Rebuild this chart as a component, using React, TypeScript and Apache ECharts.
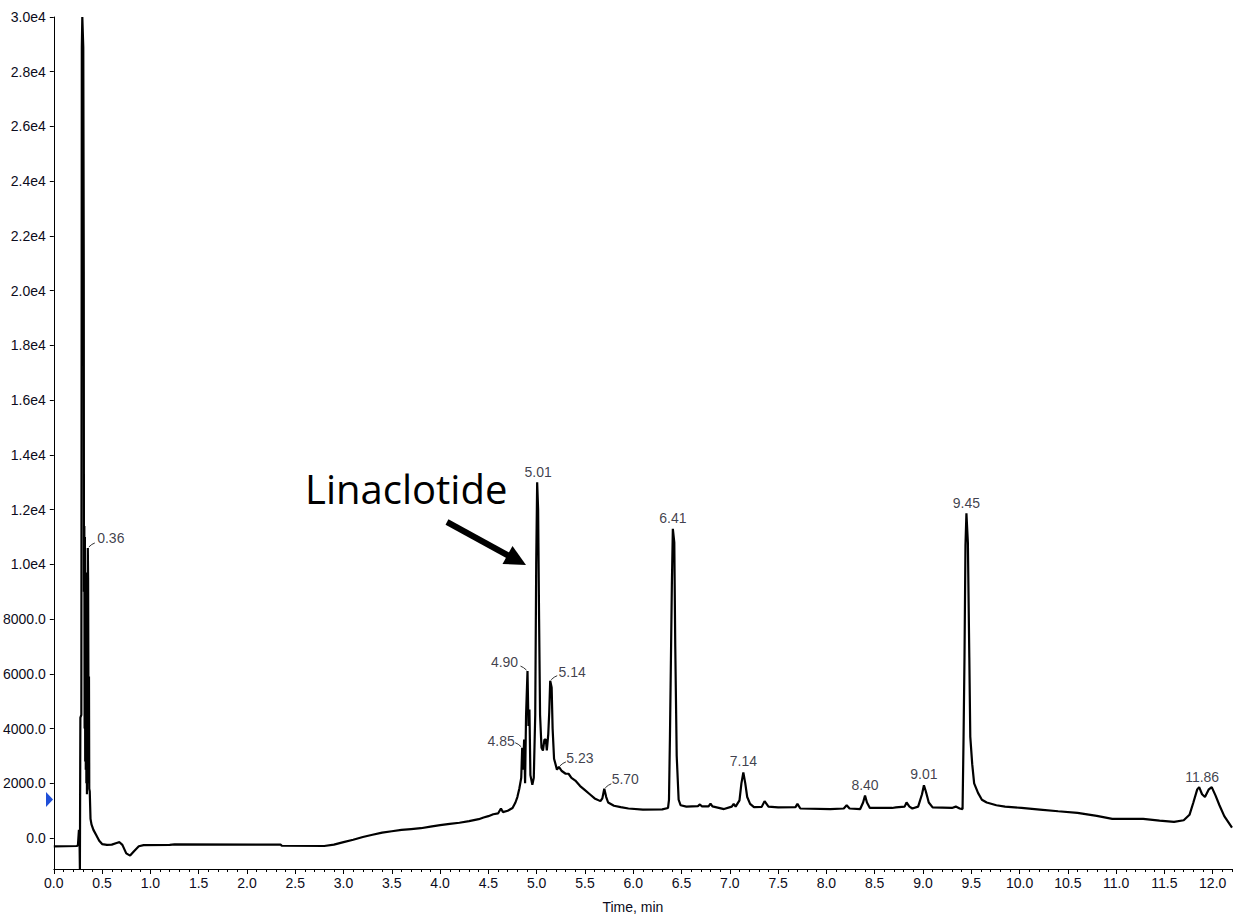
import React, { useEffect, useRef } from "react";
import * as echarts from "echarts";

// Retention time (min) and intensity (cps) of the chromatogram trace
const times = [
  0.0, 0.24, 0.25, 0.26, 0.265, 0.27, 0.275, 0.285, 0.29, 0.295, 0.3, 0.305, 0.31, 0.312, 0.316,
  0.319, 0.322, 0.325, 0.328, 0.331, 0.334, 0.337, 0.34, 0.343, 0.346, 0.349, 0.352, 0.355, 0.358, 0.361,
  0.364, 0.367, 0.372, 0.38, 0.39, 0.41, 0.44, 0.47, 0.5, 0.55,
  0.6, 0.65, 0.68, 0.71, 0.75, 0.79, 0.83, 0.88, 0.93, 1.2, 1.25, 2.35, 2.36, 2.8, 2.9,
  3.0, 3.1, 3.2, 3.3, 3.4, 3.5, 3.6, 3.7, 3.8, 3.9, 4.0, 4.1, 4.2, 4.3, 4.4,
  4.45, 4.5, 4.55, 4.6, 4.63, 4.65, 4.7, 4.75, 4.78, 4.8, 4.82, 4.84, 4.85, 4.86, 4.87,
  4.88, 4.89, 4.905, 4.915, 4.925, 4.935, 4.955, 4.97, 4.985, 4.995, 5.005, 5.015, 5.025, 5.035, 5.05,
  5.065, 5.08, 5.095, 5.105, 5.12, 5.13, 5.14, 5.155, 5.165, 5.18, 5.21, 5.23, 5.26, 5.3, 5.33,
  5.36, 5.4, 5.45, 5.5, 5.55, 5.6, 5.66, 5.68, 5.7, 5.72, 5.74, 5.8, 5.87, 5.95, 6.1,
  6.3, 6.36, 6.37, 6.38, 6.39, 6.4, 6.41, 6.425, 6.435, 6.45, 6.47, 6.49, 6.55, 6.67, 6.69,
  6.71, 6.78, 6.8, 6.82, 6.94, 7.02, 7.04, 7.06, 7.1, 7.12, 7.14, 7.16, 7.18, 7.21, 7.25,
  7.33, 7.36, 7.38, 7.4, 7.5, 7.68, 7.7, 7.73, 8.04, 8.18, 8.21, 8.24, 8.35, 8.38, 8.4,
  8.42, 8.45, 8.68, 8.72, 8.81, 8.83, 8.86, 8.89, 8.95, 8.99, 9.01, 9.03, 9.06, 9.1, 9.3,
  9.34, 9.38, 9.41, 9.42, 9.43, 9.44, 9.45, 9.465, 9.48, 9.49, 9.51, 9.53, 9.57, 9.61, 9.66,
  9.76, 9.85, 10.02, 10.21, 10.4, 10.6, 10.8, 10.96, 11.1, 11.28, 11.45, 11.6, 11.7, 11.76, 11.8,
  11.84, 11.86, 11.89, 11.92, 11.96, 11.99, 12.03, 12.07, 12.12, 12.2,
];
const intensities = [
  -300, -290, -250, 300, 200, -1130, 4400, 4500, 28900, 30000, 30000, 28900, 20700, 9000, 11400,
  4000, 11000, 2800, 9500, 2500, 9000, 2000, 9700, 1600, 8500, 2500, 10600, 9500, 5900, 2000,
  5900, 1800, 1700, 700, 500, 300, 100, -100, -220, -250,
  -240, -180, -150, -250, -560, -640, -480, -300, -260, -250, -230, -240, -280, -290, -240,
  -150, -60, 40, 120, 200, 250, 300, 330, 360, 420, 470, 520, 560, 620, 690,
  750, 800, 870, 900, 1080, 950, 1000, 1100, 1300, 1500, 1800, 2200, 3300, 2500, 3600,
  2000, 4500, 6100, 4100, 4700, 2300, 1950, 2200, 4500, 10000, 13000, 12000, 8000, 4500, 3300,
  3200, 3600, 3600, 3200, 3800, 4600, 5750, 5500, 4000, 2900, 2500, 2600, 2450, 2350, 2350,
  2200, 2100, 1900, 1750, 1600, 1450, 1350, 1450, 1800, 1500, 1300, 1180, 1130, 1080, 1040,
  1050, 1100, 1400, 3700, 6500, 9300, 11300, 10800, 7000, 3000, 1400, 1200, 1150, 1170, 1230,
  1160, 1160, 1260, 1160, 1060, 1150, 1250, 1150, 1380, 2000, 2400, 2000, 1500, 1250, 1130,
  1140, 1350, 1250, 1150, 1120, 1130, 1250, 1080, 1060, 1080, 1200, 1080, 1060, 1300, 1550,
  1300, 1100, 1100, 1120, 1150, 1300, 1150, 1080, 1150, 1600, 1930, 1700, 1300, 1120, 1100,
  1150, 1080, 1060, 3600, 6600, 10700, 11870, 10800, 6600, 3700, 2700, 2000, 1650, 1400, 1300,
  1200, 1150, 1100, 1040, 980, 920, 810, 700, 700, 700, 640, 590, 650, 850, 1300,
  1780, 1860, 1600, 1500, 1780, 1860, 1550, 1200, 800, 380,
];

// Peak annotations
const peakNames = ["0.36", "4.85", "4.90", "5.01", "5.14", "5.23", "5.70", "6.41", "7.14", "8.40", "9.01", "9.45", "11.86"];
const peakTimes = [0.352, 4.85, 4.905, 5.005, 5.14, 5.23, 5.7, 6.41, 7.14, 8.4, 9.01, 9.45, 11.86];
const peakValues = [10600, 3300, 6100, 13000, 5750, 2600, 1800, 11300, 2400, 1550, 1930, 11870, 1860];

// Tick values
const xTickValues = [
  0, 0.5, 1, 1.5, 2, 2.5, 3, 3.5, 4, 4.5, 5, 5.5, 6, 6.5, 7, 7.5, 8, 8.5, 9, 9.5, 10, 10.5, 11, 11.5, 12,
];
const yTickValues = [0, 2000, 4000, 6000, 8000, 10000, 12000, 14000, 16000, 18000, 20000, 22000, 24000, 26000, 28000, 30000];

// label placement (pixel offsets of label centre from the peak apex) and leader side
const labelOffsets: Record<string, [number, number, number]> = {
  "0.36": [23, -10, 1],
  "4.85": [-21, -7, -1],
  "4.90": [-23, -9, -1],
  "5.01": [1, -10, 0],
  "5.14": [22, -9, 1],
  "5.23": [21, -9, 1],
  "5.70": [21, -10, 1],
  "6.41": [0, -11, 0],
  "7.14": [0, -11, 0],
  "8.40": [0, -11, 0],
  "9.01": [0, -11, 0],
  "9.45": [0, -10, 0],
  "11.86": [3, -10, 0],
};

const FONT = "'Liberation Sans', Arial, sans-serif";
const TEXT_COLOR = "#0c0c20";

export default function App() {
  const ref = useRef<HTMLDivElement>(null);

  useEffect(() => {
    if (!ref.current) return;
    const chart = echarts.init(ref.current, undefined, { renderer: "svg" });
    const trace = times.map((t, i) => [t, intensities[i]]);
    const peaks = peakNames.map((n, i) => {
      const o = labelOffsets[n];
      return {
        name: n,
        value: [peakTimes[i], peakValues[i], o[2]],
        label: { offset: [o[0], o[1]] },
      };
    });

    chart.setOption({
      animation: false,
      backgroundColor: "#ffffff",
      grid: { left: 52, right: 4, top: 17, bottom: 47, containLabel: false },
      xAxis: [
        {
          type: "value",
          min: 0,
          max: 12.2,
          interval: 0.5,
          name: "Time, min",
          nameLocation: "middle",
          nameGap: 31,
          nameTextStyle: { fontFamily: FONT, fontSize: 14, color: TEXT_COLOR, padding: [0, 20, 0, 0] },
          axisLine: { show: true, onZero: false, lineStyle: { color: "#000", width: 1 } },
          axisTick: { show: true, length: 5, lineStyle: { color: "#000" }, customValues: xTickValues },
          axisLabel: {
            fontFamily: FONT,
            fontSize: 14,
            color: TEXT_COLOR,
            margin: 7,
            customValues: xTickValues,
            formatter: (v: number) => v.toFixed(1),
          },
          splitLine: { show: false },
        },
        {
          type: "value",
          min: 0,
          max: 12.2,
          interval: 0.1,
          position: "bottom",
          axisLine: { show: false, onZero: false },
          axisTick: { show: true, length: 3, lineStyle: { color: "#000" } },
          axisLabel: { show: false },
          splitLine: { show: false },
        },
      ],
      yAxis: {
        type: "value",
        min: -1130,
        max: 30000,
        axisLine: { show: true, onZero: false, lineStyle: { color: "#000", width: 1 } },
        axisTick: { show: true, length: 4, lineStyle: { color: "#000" }, customValues: yTickValues },
        axisLabel: {
          fontFamily: FONT,
          fontSize: 14,
          color: TEXT_COLOR,
          margin: 8,
          customValues: yTickValues,
          formatter: (v: number) => (v >= 10000 ? (v / 10000).toFixed(1) + "e4" : v.toFixed(1)),
        },
        splitLine: { show: false },
      },
      series: [
        {
          type: "line",
          data: trace,
          showSymbol: false,
          symbol: "none",
          lineStyle: { color: "#000", width: 2.2 },
          clip: true,
          z: 2,
        },
        {
          type: "custom",
          data: peaks.map((p) => p.value),
          z: 3,
          renderItem: (params: any, api: any) => {
            const side = api.value(2);
            if (!side) return null;
            const p = api.coord([api.value(0), api.value(1)]);
            return {
              type: "polyline",
              shape: {
                points: [
                  [p[0] + side * 1, p[1] - 1],
                  [p[0] + side * 4, p[1] - 3.5],
                  [p[0] + side * 7, p[1] - 5],
                ],
              },
              style: { stroke: "#333", lineWidth: 1, fill: "none" },
            };
          },
        },
        {
          type: "scatter",
          data: peaks,
          symbolSize: 1,
          itemStyle: { color: "transparent" },
          z: 4,
          label: {
            show: true,
            position: "inside",
            formatter: (p: any) => p.name,
            fontFamily: FONT,
            fontSize: 14,
            color: TEXT_COLOR,
            align: "center",
            verticalAlign: "middle",
          },
        },
      ],
      graphic: [
        {
          type: "text",
          left: 305,
          top: 468,
          style: {
            text: "Linaclotide",
            fontFamily: "'Open Sans', 'Noto Sans', sans-serif",
            fontSize: 40,
            fill: "#000",
          },
        },
        {
          type: "line",
          shape: { x1: 447, y1: 522, x2: 510, y2: 556.5 },
          style: { stroke: "#000", lineWidth: 6 },
        },
        {
          type: "polygon",
          shape: { points: [[526, 565], [502.5, 564], [512.5, 546]] },
          style: { fill: "#000" },
        },
        {
          type: "polygon",
          shape: { points: [[46, 792], [46, 807], [53, 799.5]] },
          style: { fill: "#1f4fd8" },
        },
      ],
    });

    return () => chart.dispose();
  }, []);

  return (
    <div
      ref={ref}
      style={{ position: "absolute", left: 0, top: 0, width: 1236, height: 919, background: "#fff" }}
    />
  );
}
